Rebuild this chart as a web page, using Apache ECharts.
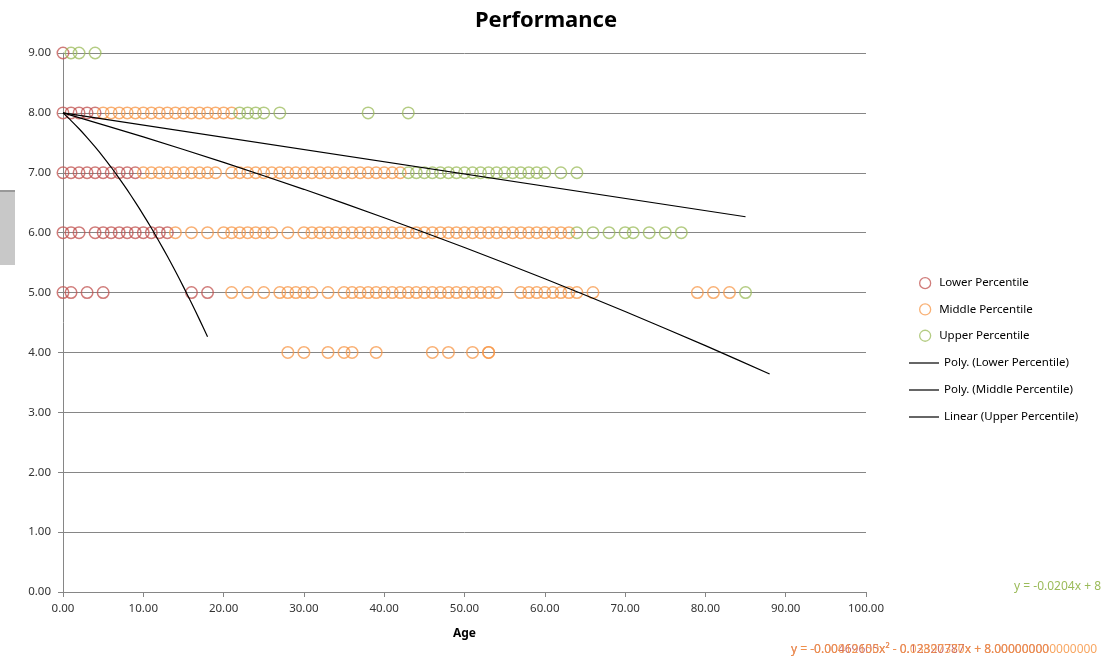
<!DOCTYPE html>
<html>
<head>
<meta charset="utf-8">
<script src="https://cdn.jsdelivr.net/npm/echarts@6/dist/echarts.min.js"></script>
<style>
html,body{margin:0;padding:0;background:#fff;}
#chart{width:1106px;height:659px;}
</style>
</head>
<body>
<div id="chart"></div>
<script>
// ---- data: ages per performance score ----
const lowerScore9 = [0];
const lowerScore8 = [0,1,2,3,4];
const lowerScore7 = [0,1,2,3,4,5,6,7,8,9];
const lowerScore6 = [0,1,2,4,5,6,7,8,9,10,11,12,13];
const lowerScore5 = [0,1,3,5,16,18];

const middleScore8 = [5,6,7,8,9,10,11,12,13,14,15,16,17,18,19,20,21];
const middleScore7 = [10,11,12,13,14,15,16,17,18,19,21,22,23,24,25,26,27,28,29,30,31,32,33,34,35,36,37,38,39,40,41,42];
const middleScore6 = [14,16,18,20,21,22,23,24,25,26,28,30,31,32,33,34,35,36,37,38,39,40,41,42,43,44,45,46,47,48,49,50,51,52,53,54,55,56,57,58,59,60,61,62,63];
const middleScore5 = [21,23,25,27,28,29,30,31,33,35,36,37,38,39,40,41,42,43,44,45,46,47,48,49,50,51,52,53,54,57,58,59,60,61,62,63,64,66,79,81,83];
const middleScore4 = [28,30,33,35,36,39,46,48,51,53,53];

const upperScore9 = [1,2,4];
const upperScore8 = [22,23,24,25,27,38,43];
const upperScore7 = [43,44,45,46,47,48,49,50,51,52,53,54,55,56,57,58,59,60,62,64];
const upperScore6 = [64,66,68,70,71,73,75,77];
const upperScore5 = [85];

// trend lines
const lowerTrendX = [0,1,2,3,4,5,6,7,8,9,10,11,12,13,14,15,16,17,18];
const lowerTrendY = [8,7.872,7.735,7.588,7.432,7.267,7.092,6.908,6.714,6.511,6.298,6.077,5.845,5.605,5.355,5.095,4.826,4.548,4.261];
const middleTrendX = [0,10,20,30,40,50,60,70,80,88];
const middleTrendY = [8,7.599,7.174,6.724,6.250,5.753,5.230,4.684,4.114,3.640];
const upperTrendX = [0,85];
const upperTrendY = [8,6.266];

const seriesNames = ['Lower Percentile','Middle Percentile','Upper Percentile'];
const trendNames = ['Poly. (Lower Percentile)','Poly. (Middle Percentile)','Linear (Upper Percentile)'];
const yTicks = [0,1,2,3,4,5,6,7,8,9];
const xTicks = [0,10,20,30,40,50,60,70,80,90,100];
const eqLower = 'y = -0.00469605x² - 0.12320787x + 8.00000000';
const eqMiddle = 'y = -0.00012150x² - 0.03897370x + 8.000000000000000';
const eqUpper = 'y = -0.0204x + 8';

// ---- build ----
function rows(map){
  const out=[];
  map.forEach(([score, ages])=>ages.forEach(a=>out.push([a,score])));
  return out;
}
const lowerData = rows([[9,lowerScore9],[8,lowerScore8],[7,lowerScore7],[6,lowerScore6],[5,lowerScore5]]);
const middleData = rows([[8,middleScore8],[7,middleScore7],[6,middleScore6],[5,middleScore5],[4,middleScore4]]);
const upperData = rows([[9,upperScore9],[8,upperScore8],[7,upperScore7],[6,upperScore6],[5,upperScore5]]);
const zip=(xs,ys)=>xs.map((x,i)=>[x,ys[i]]);

const RED='#C0504D', ORANGE='#F79646', GREEN='#9BBB59';
const COLORS=[RED,ORANGE,GREEN];
const FONT='"Noto Sans", "Open Sans", sans-serif';

function scatter(name,data,color){
  return {
    name, type:'scatter', data, symbol:'circle', symbolSize:11.5,
    itemStyle:{color:'rgba(255,255,255,0)', borderColor:color, borderWidth:1.5, opacity:0.75},
    emphasis:{disabled:true}, z:3
  };
}
function trend(name,data){
  return {
    name, type:'line', data, symbol:'none', smooth:0.2,
    lineStyle:{color:'#000', width:1.2}, itemStyle:{color:'#000'}, z:4,
    emphasis:{disabled:true}
  };
}

const chart = echarts.init(document.getElementById('chart'));
chart.setOption({
  animation:false,
  backgroundColor:'#fff',
  title:{text:'Performance', left:541, top:5, textAlign:'center',
    textStyle:{fontFamily:FONT, fontSize:22, fontWeight:'bold', color:'#000'}},
  grid:{left:63, right:240, top:53, bottom:67, containLabel:false},
  xAxis:{
    type:'value', min:xTicks[0], max:xTicks[xTicks.length-1], interval:10,
    name:'Age', nameLocation:'middle', nameGap:36,
    nameTextStyle:{fontFamily:FONT, fontSize:12, fontWeight:'bold', color:'#000'},
    axisLine:{show:true, lineStyle:{color:'#868686'}},
    axisTick:{show:true, inside:false, length:5, lineStyle:{color:'#868686'}},
    axisLabel:{formatter:v=>v.toFixed(2), fontFamily:FONT, fontSize:11.5, color:'#333', margin:11},
    splitLine:{show:false}
  },
  yAxis:{
    type:'value', min:yTicks[0], max:yTicks[yTicks.length-1], interval:1,
    axisLine:{show:true, lineStyle:{color:'#868686'}},
    axisTick:{show:true, inside:false, length:5, lineStyle:{color:'#868686'}},
    axisLabel:{formatter:v=>v.toFixed(2), fontFamily:FONT, fontSize:11.5, color:'#333', margin:12},
    splitLine:{show:true, lineStyle:{color:'#868686', width:1}}
  },
  legend:[
    {data:seriesNames.map((n,i)=>({name:n, icon:'circle',
        itemStyle:{color:'rgba(255,255,255,0)', borderColor:COLORS[i], borderWidth:1.3, opacity:0.75}})),
      orient:'vertical', left:914, top:272, itemGap:14,
      itemWidth:18, itemHeight:11,
      textStyle:{fontFamily:FONT, fontSize:11.5, color:'#000'}},
    {data:trendNames.map(n=>({name:n, icon:'rect', itemStyle:{color:'#000'}})),
      orient:'vertical', left:904, top:352, itemGap:15,
      itemWidth:30, itemHeight:1.2,
      textStyle:{fontFamily:FONT, fontSize:11.5, color:'#000'}}
  ],
  series:[
    scatter(seriesNames[0], lowerData, RED),
    scatter(seriesNames[1], middleData, ORANGE),
    scatter(seriesNames[2], upperData, GREEN),
    trend(trendNames[0], zip(lowerTrendX, lowerTrendY)),
    trend(trendNames[1], zip(middleTrendX, middleTrendY)),
    trend(trendNames[2], zip(upperTrendX, upperTrendY))
  ],
  graphic:[
    {type:'rect', shape:{x:0,y:190,width:15,height:75}, style:{fill:'#c8c8c8'}, silent:true},
    {type:'rect', shape:{x:0,y:190,width:15,height:2}, style:{fill:'#999'}, silent:true},
    {type:'text', right:5, top:581, style:{text:eqUpper, fill:GREEN, font:'12px '+FONT}},
    {type:'text', left:791, top:644, style:{text:eqLower, fill:RED, font:'12px '+FONT, opacity:0.85}},
    {type:'text', left:791, top:644, style:{text:eqMiddle, fill:ORANGE, font:'12px '+FONT, opacity:0.85}}
  ]
});
</script>
</body>
</html>
